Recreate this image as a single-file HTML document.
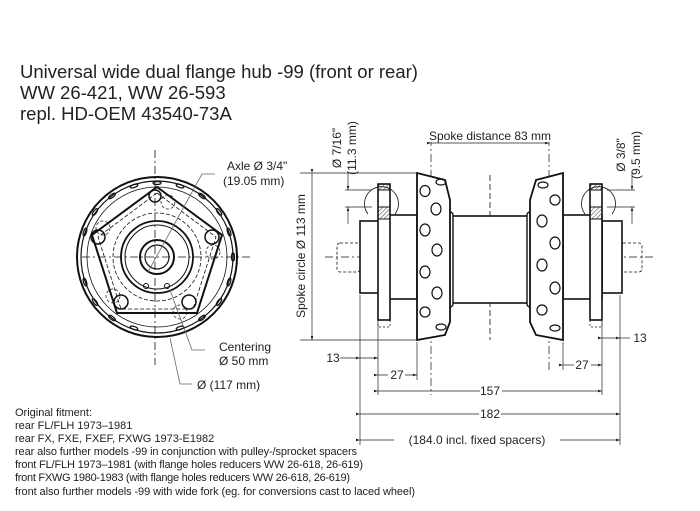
<!DOCTYPE html>
<html><head><meta charset="utf-8"><style>
html,body{margin:0;padding:0;background:#fff}
svg{display:block;font-family:"Liberation Sans",sans-serif}
</style></head><body>
<svg width="700" height="511" viewBox="0 0 700 511" xmlns="http://www.w3.org/2000/svg">
<defs>
<pattern id="h" width="3" height="3" patternUnits="userSpaceOnUse" patternTransform="rotate(45)"><line x1="0" y1="0" x2="0" y2="3" stroke="#333" stroke-width="1"/></pattern>
<marker id="a" markerWidth="6" markerHeight="4" refX="6" refY="2" orient="auto"><path d="M0,0 L6,2 L0,4z" fill="#222"/></marker>
</defs>
<g fill="#222" font-size="18.5">
<text x="20" y="78">Universal wide dual flange hub -99 (front or rear)</text>
<text x="20" y="99">WW 26-421, WW 26-593</text>
<text x="20" y="120">repl. HD-OEM 43540-73A</text>
</g>
<g fill="#222" font-size="11">
<text x="15" y="416">Original fitment:</text>
<text x="15" y="429">rear FL/FLH 1973–1981</text>
<text x="15" y="442">rear FX, FXE, FXEF, FXWG 1973-E1982</text>
<text x="15" y="455" textLength="342">rear also further models -99 in conjunction with pulley-/sprocket spacers</text>
<text x="15" y="468" textLength="348">front FL/FLH 1973–1981 (with flange holes reducers WW 26-618, 26-619)</text>
<text x="15" y="481" textLength="335">front FXWG 1980-1983 (with flange holes reducers WW 26-618, 26-619)</text>
<text x="15" y="495" textLength="400">front also further models -99 with wide fork (eg. for conversions cast to laced wheel)</text>
</g>
<!-- front view -->
<g fill="none" stroke="#111">
<line x1="155" y1="150" x2="155" y2="365" stroke-dasharray="8,3,2,3" stroke-width="0.8"/>
<line x1="82" y1="257" x2="252" y2="257" stroke-dasharray="8,3,2,3" stroke-width="0.8"/>
<circle cx="157" cy="257" r="80" stroke-width="2"/>
<circle cx="157" cy="257" r="76" stroke-width="1.2"/>
<circle cx="157" cy="257" r="70" stroke-width="0.8"/>
<polygon points="157,187 222,235 197,313 117,313 92,235" stroke-width="2"/>
<polygon points="157,193 216,237 193,309 121,309 98,237" stroke-width="0.8" stroke-dasharray="4,2"/>
<circle cx="157" cy="257" r="44" stroke-width="0.8" stroke-dasharray="4,2"/>
<circle cx="157" cy="257" r="36" stroke-width="1.8"/>
<circle cx="157" cy="257" r="32" stroke-width="1"/>
<circle cx="157" cy="257" r="17" stroke-width="2"/>
<circle cx="157" cy="257" r="12" stroke-width="1.2"/>
<circle cx="155" cy="196" r="6" stroke-width="1.5"/>
<circle cx="98" cy="237" r="7" stroke-width="1.5"/>
<circle cx="212" cy="237" r="7" stroke-width="1.5"/>
<circle cx="121" cy="302" r="7" stroke-width="1.5"/>
<circle cx="189" cy="302" r="7" stroke-width="1.5"/>
<circle cx="168" cy="202" r="7" stroke-width="0.7" stroke-dasharray="3,2"/>
<circle cx="103" cy="228" r="7" stroke-width="0.7" stroke-dasharray="3,2"/>
<circle cx="213" cy="252" r="7" stroke-width="0.7" stroke-dasharray="3,2"/>
<circle cx="113" cy="296" r="7" stroke-width="0.7" stroke-dasharray="3,2"/>
<circle cx="180" cy="312" r="7" stroke-width="0.7" stroke-dasharray="3,2"/>
<circle cx="146" cy="286" r="2.5"/><circle cx="167" cy="286" r="2.5"/>
<g stroke-width="1.2">
<ellipse cx="157" cy="183" rx="4" ry="1.5"/><ellipse cx="180" cy="186" rx="4" ry="1.5" transform="rotate(18 180 186)"/><ellipse cx="202" cy="196" rx="4" ry="1.5" transform="rotate(36 202 196)"/><ellipse cx="219" cy="212" rx="4" ry="1.5" transform="rotate(54 219 212)"/><ellipse cx="229" cy="232" rx="4" ry="1.5" transform="rotate(72 229 232)"/><ellipse cx="233" cy="257" rx="4" ry="1.5" transform="rotate(90 233 257)"/><ellipse cx="229" cy="282" rx="4" ry="1.5" transform="rotate(108 229 282)"/><ellipse cx="219" cy="302" rx="4" ry="1.5" transform="rotate(126 219 302)"/><ellipse cx="202" cy="318" rx="4" ry="1.5" transform="rotate(144 202 318)"/><ellipse cx="180" cy="328" rx="4" ry="1.5" transform="rotate(162 180 328)"/><ellipse cx="134" cy="186" rx="4" ry="1.5" transform="rotate(-18 134 186)"/><ellipse cx="112" cy="196" rx="4" ry="1.5" transform="rotate(-36 112 196)"/><ellipse cx="95" cy="212" rx="4" ry="1.5" transform="rotate(-54 95 212)"/><ellipse cx="85" cy="232" rx="4" ry="1.5" transform="rotate(-72 85 232)"/><ellipse cx="85" cy="282" rx="4" ry="1.5" transform="rotate(72 85 282)"/><ellipse cx="95" cy="302" rx="4" ry="1.5" transform="rotate(54 95 302)"/><ellipse cx="112" cy="318" rx="4" ry="1.5" transform="rotate(36 112 318)"/><ellipse cx="134" cy="328" rx="4" ry="1.5" transform="rotate(18 134 328)"/>
</g>
<g stroke="#666" stroke-width="0.8">
<polyline points="148,272 202,174 215,174"/>
<polyline points="170,290 192,350 205,350"/>
<polyline points="170,338 180,384 192,384"/>
</g>
</g>
<g fill="#222" font-size="12">
<text x="227" y="170">Axle Ø 3/4"</text>
<text x="223" y="185">(19.05 mm)</text>
<text x="219" y="351">Centering</text>
<text x="219" y="365">Ø 50 mm</text>
<text x="197" y="389">Ø (117 mm)</text>
</g>
<!-- side view -->
<g fill="none" stroke="#111">
<line x1="325" y1="257" x2="655" y2="257" stroke-dasharray="8,3,2,3" stroke-width="0.8"/>
<line x1="490" y1="175" x2="490" y2="340" stroke-dasharray="6,3" stroke-width="0.8"/>
<line x1="431" y1="138" x2="431" y2="395" stroke-dasharray="8,3,2,3" stroke-width="0.7"/>
<line x1="549" y1="138" x2="549" y2="370" stroke-dasharray="8,3,2,3" stroke-width="0.7"/>
<rect x="337" y="243" width="23" height="29" rx="3" stroke-dasharray="3,2" stroke-width="0.8"/>
<rect x="620" y="243" width="22" height="29" rx="3" stroke-dasharray="3,2" stroke-width="0.8"/>
<rect x="360" y="221" width="20" height="72" stroke-width="1.6" fill="#fff"/>
<rect x="602" y="221" width="20" height="72" stroke-width="1.6" fill="#fff"/>
<rect x="380" y="215" width="37" height="84" stroke-width="1.6" fill="#fff"/>
<rect x="563" y="215" width="39" height="84" stroke-width="1.6" fill="#fff"/>
<rect x="450" y="216" width="80" height="87" stroke-width="1.6" fill="#fff"/>
<rect x="445" y="212" width="8" height="95" rx="3" stroke-width="1.4" fill="#fff"/>
<rect x="527" y="212" width="8" height="95" rx="3" stroke-width="1.4" fill="#fff"/>
<rect x="378" y="184" width="12" height="136" stroke-width="1.6" fill="#fff"/>
<rect x="590" y="184" width="12" height="136" stroke-width="1.6" fill="#fff"/>
<rect x="378" y="184" width="12" height="6" fill="url(#h)" stroke-width="1"/>
<rect x="378" y="207" width="12" height="12" fill="url(#h)" stroke-width="1"/>
<rect x="590" y="184" width="12" height="6" fill="url(#h)" stroke-width="1"/>
<rect x="590" y="207" width="12" height="12" fill="url(#h)" stroke-width="1"/>
<rect x="378" y="320" width="12" height="7" stroke-dasharray="2,2" stroke-width="0.7"/>
<rect x="590" y="320" width="12" height="7" stroke-dasharray="2,2" stroke-width="0.7"/>
<path d="M368,214 A17,17 0 1 1 395,214" stroke-width="0.8"/>
<path d="M585,214 A17,17 0 1 1 612,214" stroke-width="0.8"/>
<path d="M417,173 L445,180 L450,200 L450,322 L445,335 L417,340 Z" stroke-width="1.8" fill="#fff"/>
<path d="M563,173 L536,180 L530,200 L530,322 L536,335 L563,340 Z" stroke-width="1.8" fill="#fff"/>
<g stroke-width="1.2">
<ellipse cx="425" cy="191" rx="5" ry="5.5"/><ellipse cx="441" cy="182" rx="5" ry="3"/><ellipse cx="436" cy="209" rx="5" ry="6"/><ellipse cx="425" cy="230" rx="5" ry="6"/><ellipse cx="437" cy="250" rx="5" ry="6"/><ellipse cx="425" cy="272" rx="5" ry="6"/><ellipse cx="437" cy="293" rx="5" ry="6"/><ellipse cx="425" cy="312" rx="5" ry="5"/><ellipse cx="441" cy="327" rx="5" ry="3"/>
<ellipse cx="543" cy="185" rx="5" ry="3"/><ellipse cx="555" cy="200" rx="5" ry="5"/><ellipse cx="542" cy="221" rx="5" ry="6"/><ellipse cx="555" cy="243" rx="5" ry="6"/><ellipse cx="542" cy="265" rx="5" ry="6"/><ellipse cx="555" cy="288" rx="5" ry="6"/><ellipse cx="542" cy="310" rx="5" ry="5"/><ellipse cx="555" cy="328" rx="5" ry="3"/>
</g>
</g>
<!-- dimensions -->
<g fill="none" stroke="#222" stroke-width="0.7">
<line x1="300" y1="173" x2="417" y2="173"/><line x1="300" y1="340" x2="417" y2="340"/>
<line x1="312" y1="173" x2="312" y2="340" marker-start="url(#a)" marker-end="url(#a)"/>
<line x1="431" y1="143" x2="549" y2="143" marker-start="url(#a)" marker-end="url(#a)"/>
<line x1="345" y1="190" x2="372" y2="190"/><line x1="345" y1="207" x2="372" y2="207"/>
<line x1="348" y1="172" x2="348" y2="190" marker-end="url(#a)"/><line x1="348" y1="224" x2="348" y2="207" marker-end="url(#a)"/>
<line x1="607" y1="190" x2="635" y2="190"/><line x1="607" y1="207" x2="635" y2="207"/>
<line x1="632" y1="172" x2="632" y2="190" marker-end="url(#a)"/><line x1="632" y1="224" x2="632" y2="207" marker-end="url(#a)"/>
<line x1="360" y1="295" x2="360" y2="445"/><line x1="620" y1="295" x2="620" y2="445"/>
<line x1="378" y1="322" x2="378" y2="395"/><line x1="602" y1="322" x2="602" y2="395"/>
<line x1="417" y1="342" x2="417" y2="380"/><line x1="563" y1="342" x2="563" y2="370"/>
<line x1="340" y1="358" x2="360" y2="358"/><line x1="360" y1="358" x2="378" y2="358" marker-start="url(#a)" marker-end="url(#a)"/>
<line x1="378" y1="375" x2="417" y2="375" marker-start="url(#a)" marker-end="url(#a)"/>
<line x1="563" y1="365" x2="602" y2="365" marker-start="url(#a)" marker-end="url(#a)"/>
<line x1="378" y1="391" x2="602" y2="391" marker-start="url(#a)" marker-end="url(#a)"/>
<line x1="360" y1="414" x2="620" y2="414" marker-start="url(#a)" marker-end="url(#a)"/>
<line x1="360" y1="440" x2="620" y2="440" marker-start="url(#a)" marker-end="url(#a)"/>
<line x1="602" y1="338" x2="620" y2="338" marker-start="url(#a)" marker-end="url(#a)"/><line x1="620" y1="338" x2="630" y2="338"/>
</g>
<g fill="#222" font-size="12" text-anchor="middle">
<rect x="427" y="131" width="126" height="11" fill="#fff"/>
<text x="490" y="140">Spoke distance 83 mm</text>
<text transform="translate(305,256) rotate(-90)">Spoke circle Ø 113 mm</text>
<text transform="translate(341,148) rotate(-90)">Ø 7/16"</text>
<text transform="translate(356,148) rotate(-90)">(11.3 mm)</text>
<text transform="translate(625,155) rotate(-90)">Ø 3/8"</text>
<text transform="translate(640,155) rotate(-90)">(9.5 mm)</text>
<text x="333" y="362">13</text>
<rect x="388" y="369" width="17" height="12" fill="#fff"/><text x="397" y="379">27</text>
<rect x="574" y="359" width="17" height="12" fill="#fff"/><text x="582" y="369">27</text>
<rect x="480" y="385" width="22" height="12" fill="#fff"/><text x="490" y="395">157</text>
<rect x="479" y="408" width="22" height="12" fill="#fff"/><text x="490" y="418">182</text>
<rect x="394" y="433" width="166" height="13" fill="#fff"/><text x="477" y="444">(184.0 incl. fixed spacers)</text>
<text x="640" y="342">13</text>
</g>
</svg>
</body></html>
